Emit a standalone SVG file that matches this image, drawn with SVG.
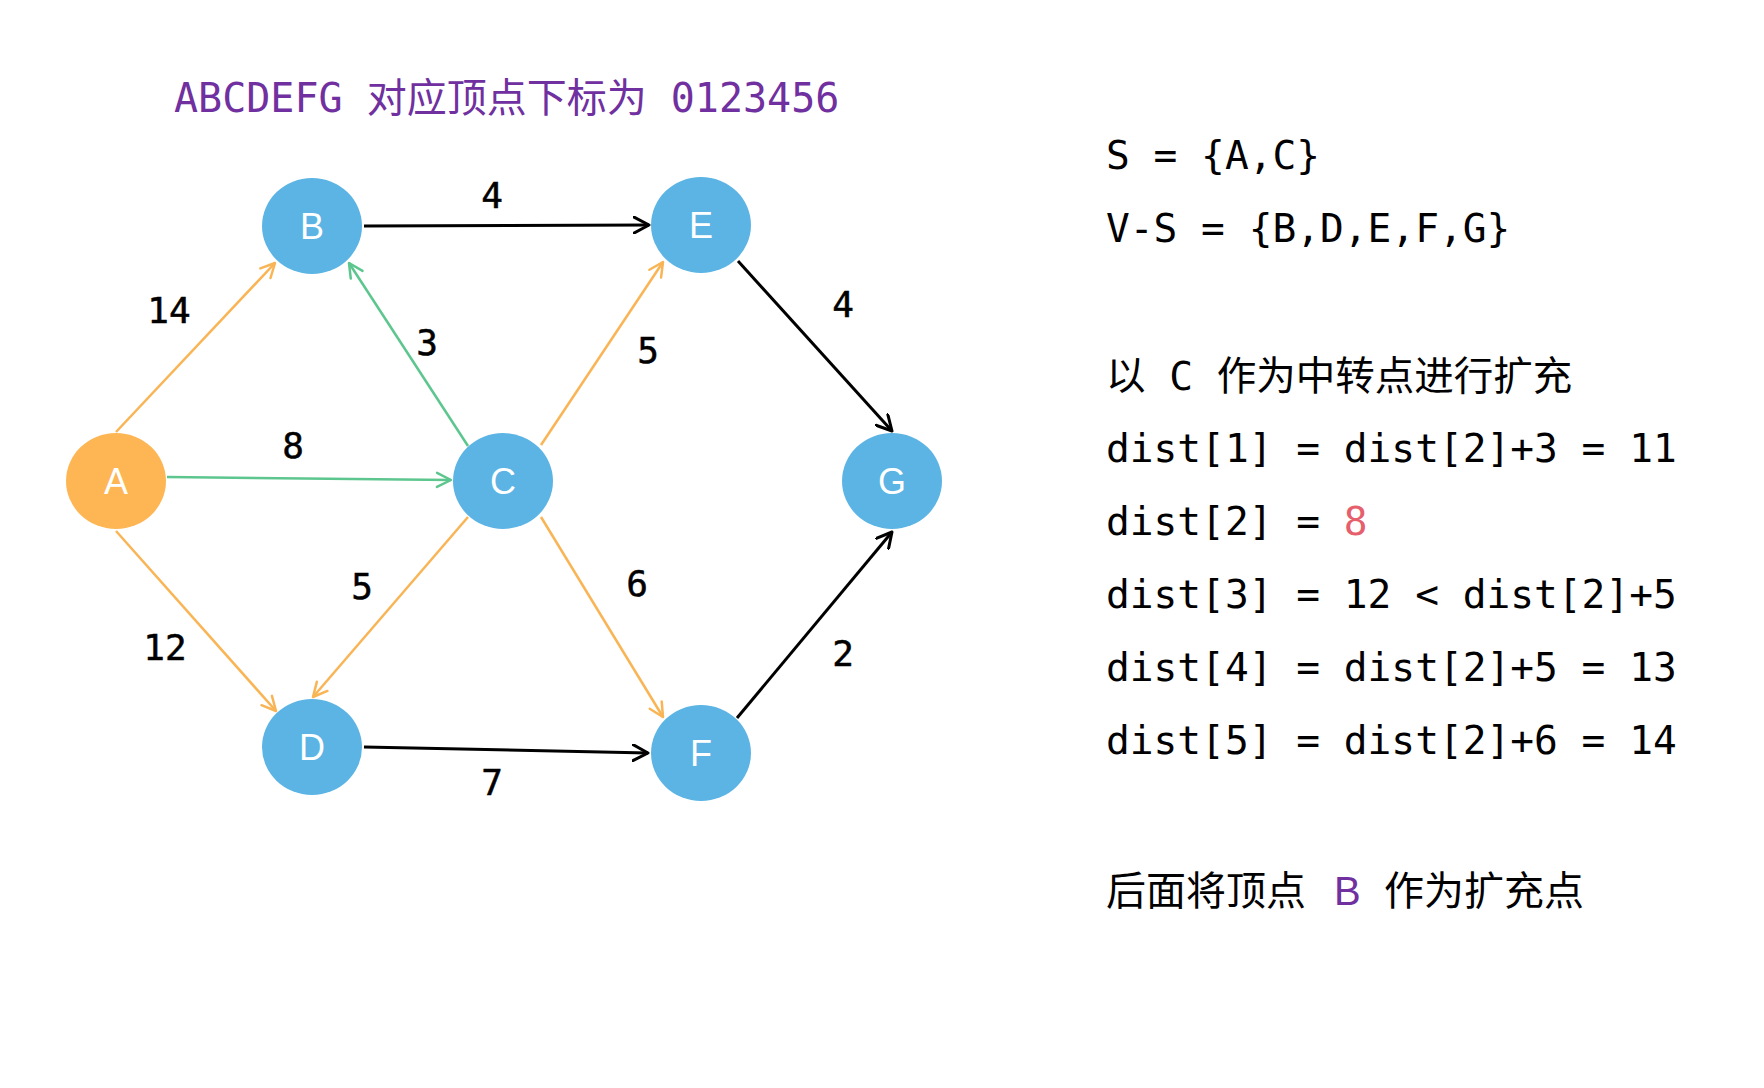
<svg xmlns="http://www.w3.org/2000/svg" width="1764" height="1088" viewBox="0 0 1764 1088">
<style>
.node-blue{fill:#5bb4e4}
.node-orange{fill:#fdb653}
.nlabel{font-family:"Liberation Sans",Arial,sans-serif;font-size:36px;fill:#ffffff;text-anchor:middle}
.elabel{font-family:"DejaVu Sans Mono","Liberation Mono",monospace;font-size:36px;fill:#000000;text-anchor:middle;stroke:#000000;stroke-width:0.5}
.mono{font-family:"DejaVu Sans Mono","Liberation Mono","Noto Sans CJK SC",monospace;font-size:39.5px;fill:#000000}
.cjk{font-family:"Noto Sans CJK SC","Noto Sans",sans-serif;font-size:40px;fill:#000000}
.purple{fill:#7030a0}
.red{fill:#e65f6c}
.e-black{stroke:#000000;stroke-width:3;fill:none}
.e-orange{stroke:#f9b555;stroke-width:2.5;fill:none}
.e-green{stroke:#5cc68e;stroke-width:2.5;fill:none}
</style>
<defs>
<marker id="ah-black" viewBox="0 0 18 18" refX="16" refY="9" markerWidth="18" markerHeight="18" markerUnits="userSpaceOnUse" orient="auto">
<path d="M1,1 L16,9 L1,17" fill="none" stroke="#000000" stroke-width="3" stroke-linecap="round" stroke-linejoin="round"/>
</marker>
<marker id="ah-orange" viewBox="0 0 18 18" refX="16" refY="9" markerWidth="18" markerHeight="18" markerUnits="userSpaceOnUse" orient="auto">
<path d="M2,2 L16,9 L2,16" fill="none" stroke="#f9b555" stroke-width="2.5" stroke-linecap="round" stroke-linejoin="round"/>
</marker>
<marker id="ah-green" viewBox="0 0 18 18" refX="16" refY="9" markerWidth="18" markerHeight="18" markerUnits="userSpaceOnUse" orient="auto">
<path d="M2,2 L16,9 L2,16" fill="none" stroke="#5cc68e" stroke-width="2.5" stroke-linecap="round" stroke-linejoin="round"/>
</marker>
</defs>
<rect width="1764" height="1088" fill="#ffffff"/>

<g id="title">
<text x="174" y="112" class="mono purple" style="font-size:40px">ABCDEFG 对应顶点下标为 0123456</text>
</g>

<g id="connectors">
<line class="e-orange" x1="116" y1="432" x2="275" y2="263" marker-end="url(#ah-orange)"/>
<line class="e-green" x1="167" y1="477" x2="451" y2="480" marker-end="url(#ah-green)"/>
<line class="e-orange" x1="116" y1="531" x2="276" y2="711" marker-end="url(#ah-orange)"/>
<line class="e-green" x1="468" y1="446" x2="349" y2="263" marker-end="url(#ah-green)"/>
<line class="e-orange" x1="541" y1="445" x2="663" y2="262" marker-end="url(#ah-orange)"/>
<line class="e-orange" x1="468" y1="517" x2="313" y2="697" marker-end="url(#ah-orange)"/>
<line class="e-orange" x1="541" y1="517" x2="663" y2="717" marker-end="url(#ah-orange)"/>
<line class="e-black" x1="364" y1="226" x2="649" y2="225" marker-end="url(#ah-black)"/>
<line class="e-black" x1="364" y1="747" x2="648" y2="753" marker-end="url(#ah-black)"/>
<line class="e-black" x1="738" y1="261" x2="892" y2="431" marker-end="url(#ah-black)"/>
<line class="e-black" x1="737" y1="718" x2="892" y2="532" marker-end="url(#ah-black)"/>
<text class="elabel" x="492" y="208">4</text>
<text class="elabel" x="169" y="323">14</text>
<text class="elabel" x="427" y="355">3</text>
<text class="elabel" x="293" y="458">8</text>
<text class="elabel" x="648" y="363">5</text>
<text class="elabel" x="843" y="317">4</text>
<text class="elabel" x="165" y="660">12</text>
<text class="elabel" x="362" y="599">5</text>
<text class="elabel" x="492" y="795">7</text>
<text class="elabel" x="637" y="596">6</text>
<text class="elabel" x="843" y="666">2</text>
</g>

<g id="node-A"><ellipse class="node-orange" cx="116" cy="481" rx="50" ry="48"/><text class="nlabel" x="116" y="494">A</text></g>
<g id="node-B"><ellipse class="node-blue" cx="312" cy="226" rx="50" ry="48"/><text class="nlabel" x="312" y="239">B</text></g>
<g id="node-C"><ellipse class="node-blue" cx="503" cy="481" rx="50" ry="48"/><text class="nlabel" x="503" y="494">C</text></g>
<g id="node-D"><ellipse class="node-blue" cx="312" cy="747" rx="50" ry="48"/><text class="nlabel" x="312" y="760">D</text></g>
<g id="node-E"><ellipse class="node-blue" cx="701" cy="225" rx="50" ry="48"/><text class="nlabel" x="701" y="238">E</text></g>
<g id="node-F"><ellipse class="node-blue" cx="701" cy="753" rx="50" ry="48"/><text class="nlabel" x="701" y="766">F</text></g>
<g id="node-G"><ellipse class="node-blue" cx="892" cy="481" rx="50" ry="48"/><text class="nlabel" x="892" y="494">G</text></g>

<g id="notes">
<text class="mono" x="1106" y="169">S = {A,C}</text>
<text class="mono" x="1106" y="242">V-S = {B,D,E,F,G}</text>
<text class="mono" x="1106" y="390">以 C 作为中转点进行扩充</text>
<text class="mono" x="1106" y="462">dist[1] = dist[2]+3 = 11</text>
<text class="mono" x="1106" y="535">dist[2] = <tspan class="red">8</tspan></text>
<text class="mono" x="1106" y="608">dist[3] = 12 &lt; dist[2]+5</text>
<text class="mono" x="1106" y="681">dist[4] = dist[2]+5 = 13</text>
<text class="mono" x="1106" y="754">dist[5] = dist[2]+6 = 14</text>
<text class="cjk" y="905"><tspan x="1106">后面将顶点</tspan><tspan x="1334" class="purple" style="font-family:'Liberation Sans',Arial,sans-serif">B</tspan><tspan x="1384">作为扩充点</tspan></text>
</g>
</svg>
